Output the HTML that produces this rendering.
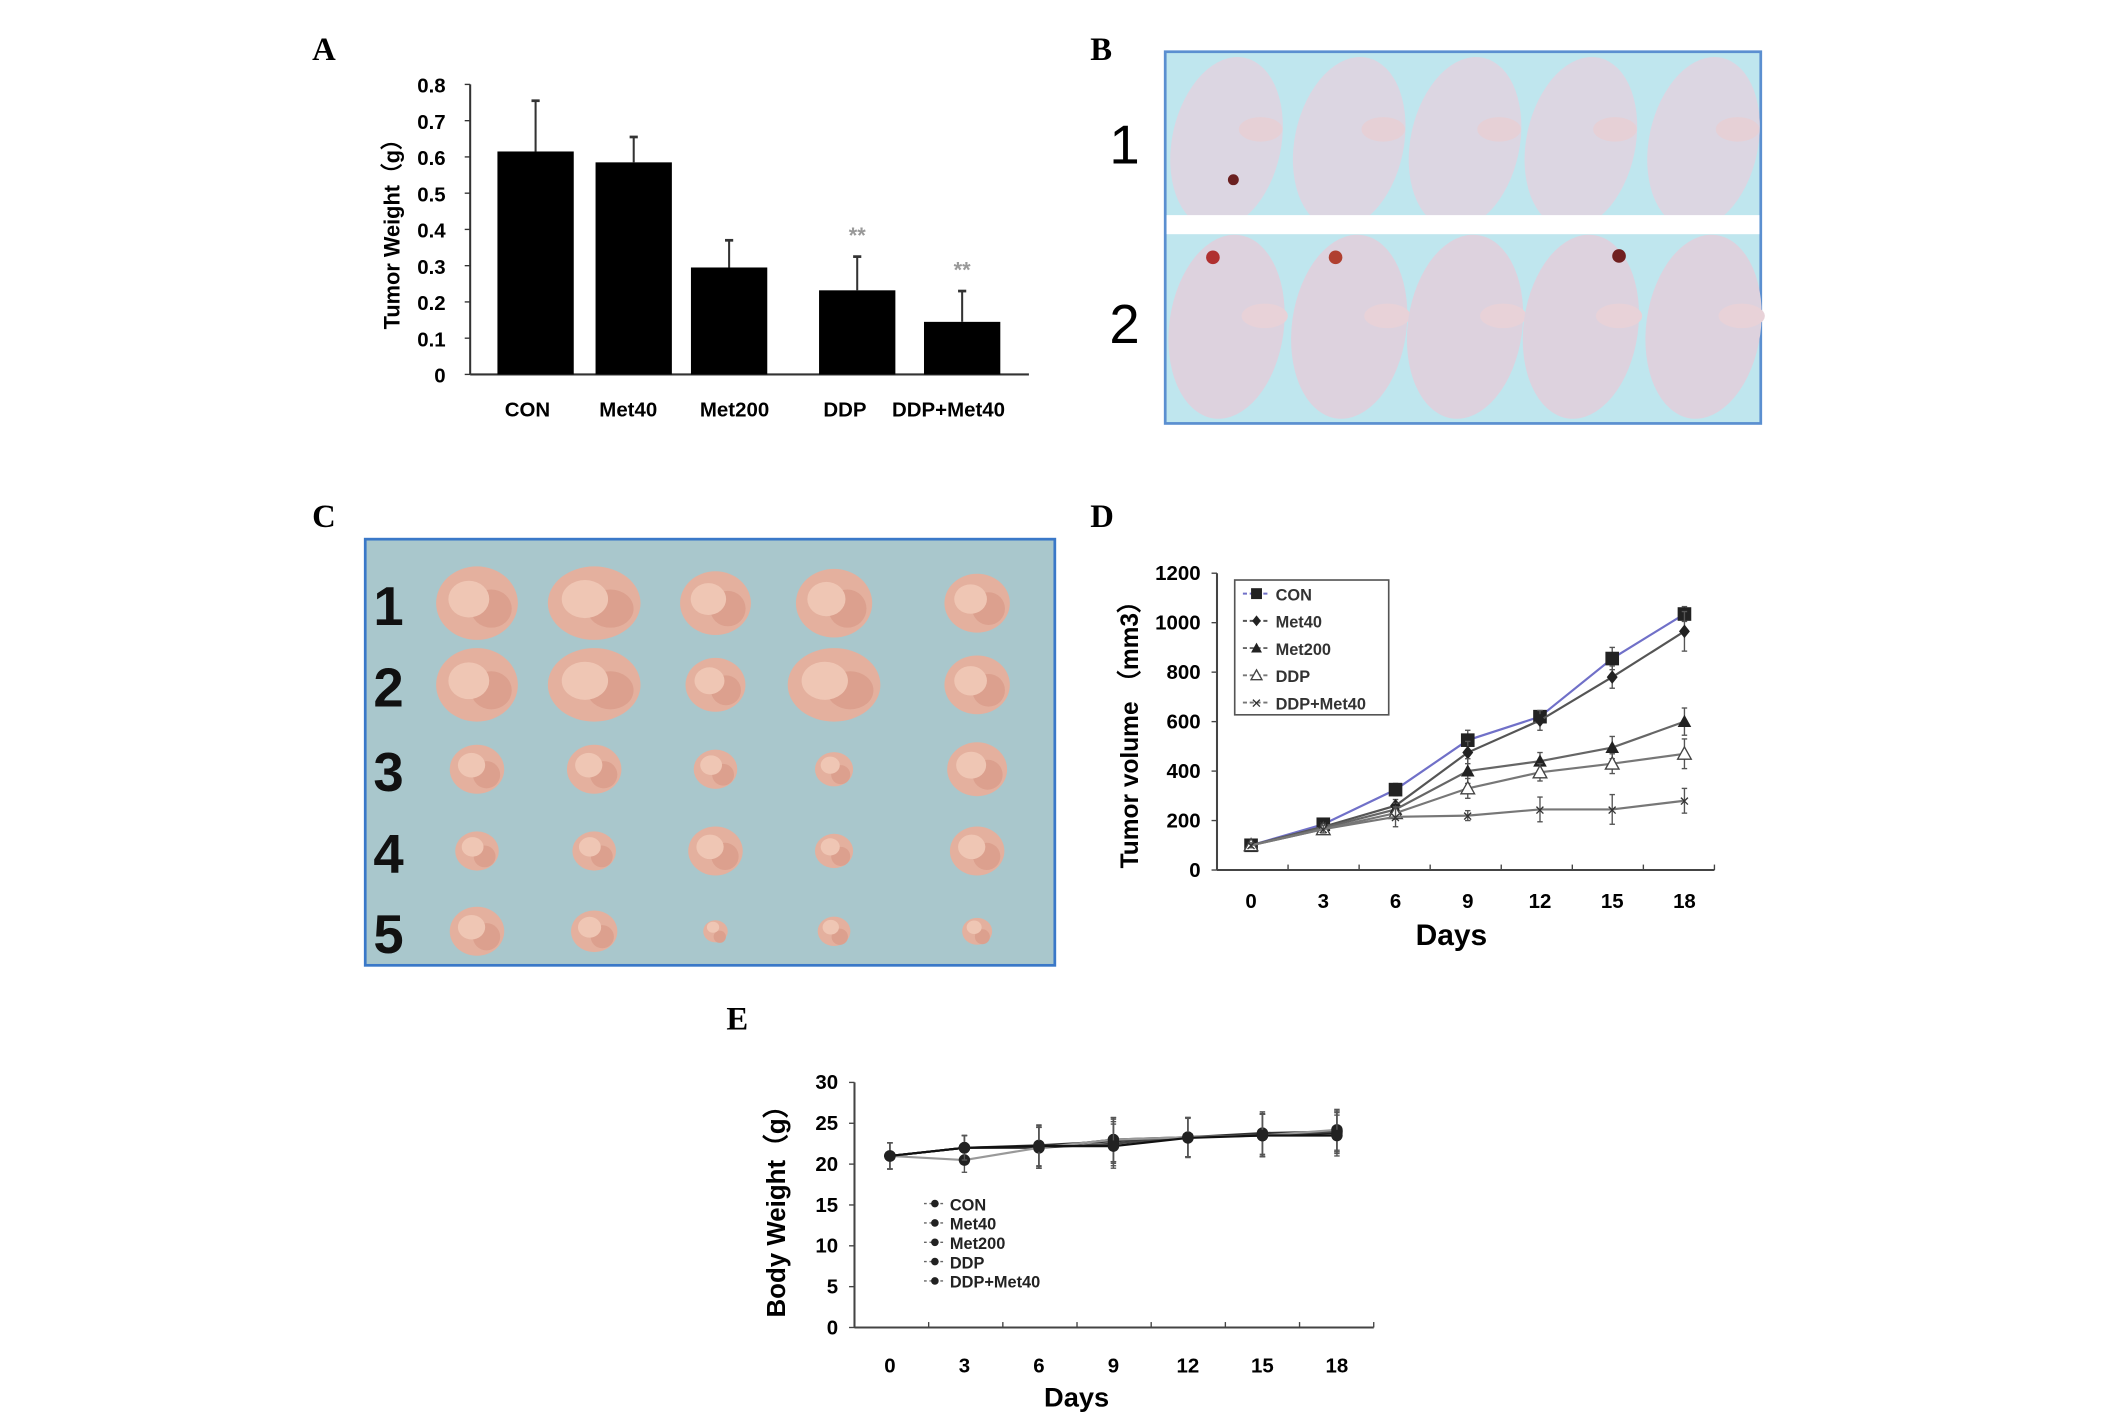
<!DOCTYPE html>
<html><head><meta charset="utf-8"><style>
html,body{margin:0;padding:0;background:#fff;}
svg{display:block;}
text{font-family:"Liberation Sans",sans-serif;}
.lbl{font-family:"Liberation Serif",serif;font-weight:bold;font-size:24px;}
.tk{font-weight:bold;font-size:15px;}
</style></head><body>
<svg id="fig" width="2126" height="1416" viewBox="0 0 1560 1040" preserveAspectRatio="none" xmlns="http://www.w3.org/2000/svg">
<rect width="1560" height="1040" fill="#fff"/>
<text class="lbl" x="229" y="44">A</text>
<text class="lbl" x="800" y="44">B</text>
<text class="lbl" x="229" y="387">C</text>
<text class="lbl" x="800" y="387">D</text>
<text class="lbl" x="533" y="756">E</text>

<g id="panelA"></g>

<g>
 <rect x="855" y="38" width="437" height="273" fill="#bfe6ee" stroke="#5b8fd0" stroke-width="2"/>
 <g id="mice"></g>
 <rect x="856" y="158" width="435" height="14" fill="#fff"/>
 <text x="814" y="120" font-size="40">1</text>
 <text x="814" y="252" font-size="40">2</text>
</g>

<g>
 <rect x="268" y="396" width="506" height="313" fill="#a9c7cc" stroke="#3a78c8" stroke-width="2"/>
 <g id="tumors"></g>
</g>

<g id="panelD"></g>
<g id="panelE"></g>
</svg>
<script>
const NS="http://www.w3.org/2000/svg";
function mk(parent,tag,attrs,txt){const e=document.createElementNS(NS,tag);for(const k in attrs)e.setAttribute(k,attrs[k]);if(txt!==undefined)e.textContent=txt;parent.appendChild(e);return e;}

const aCategories=["CON","Met40","Met200","DDP","DDP+Met40"];
const aValues=[0.615,0.585,0.295,0.232,0.145];
const aErrors=[0.14,0.07,0.075,0.093,0.085];
const aTicks=[0,0.1,0.2,0.3,0.4,0.5,0.6,0.7,0.8];
const aStars=["","","","**","**"];

const dDays=[0,3,6,9,12,15,18];
const dTicksY=[0,200,400,600,800,1000,1200];
const dCON=[100,185,325,525,620,855,1035];
const dMet40=[100,175,260,475,605,780,965];
const dMet200=[100,170,245,400,440,495,600];
const dDDP=[100,165,230,330,395,430,470];
const dDDPMet40=[100,165,215,220,245,245,280];
const dErrCON=[10,15,25,40,20,45,30];
const dErrMet40=[10,15,25,45,40,45,80];
const dErrMet200=[10,15,25,50,35,45,55];
const dErrDDP=[10,15,25,40,35,40,60];
const dErrDDPMet40=[10,15,40,20,50,60,50];

const eTicksY=[0,5,10,15,20,25,30];
const eCON=[21,22,22,23,23.3,23.6,23.8];
const eMet40=[21,22,22.3,22.8,23.3,23.8,24];
const eMet200=[21,22,22,22.5,23.3,23.5,24];
const eDDP=[21,20.5,22,23,23.3,23.5,24.2];
const eDDPMet40=[21,22,22.2,22.2,23.2,23.5,23.5];
const eErr=[1.6,1.5,2.5,2.7,2.4,2.6,2.5];

(function(){
 const g=document.getElementById('panelA');
 const x0=345,x1=755,yb=275,yt=62;
 const y=v=>yb-(v/0.8)*(yb-yt);
 const xc=[393,465,535,629,706];
 mk(g,'line',{x1:x0,y1:yt,x2:x0,y2:yb,stroke:'#333','stroke-width':1.5});
 mk(g,'line',{x1:x0,y1:yb,x2:x1,y2:yb,stroke:'#333','stroke-width':1.5});
 aTicks.forEach(t=>{
  mk(g,'line',{x1:x0-4,y1:y(t),x2:x0,y2:y(t),stroke:'#333'});
  const tx=mk(g,'text',{x:327,y:y(t)+6,'text-anchor':'end',class:'tk'},String(t));
  
  
 });
 const yt2=mk(g,'text',{x:0,y:0,transform:'translate(293,168) rotate(-90)','text-anchor':'middle','font-weight':'bold','font-size':16},'Tumor Weight（g）');
 
 
 aCategories.forEach((c,i)=>{
  const b=mk(g,'rect',{x:xc[i]-28,y:y(aValues[i]),width:56,height:yb-y(aValues[i]),fill:'#000'});
  
  
  const top=y(aValues[i]+aErrors[i]);
  const e=mk(g,'line',{x1:xc[i],y1:y(aValues[i]),x2:xc[i],y2:top,stroke:'#333','stroke-width':1.5});
  
  
  mk(g,'line',{x1:xc[i]-3,y1:top,x2:xc[i]+3,y2:top,stroke:'#333','stroke-width':2});
  if(aStars[i]){const s=mk(g,'text',{x:xc[i],y:top-10,'text-anchor':'middle','font-size':16,fill:'#999','font-weight':'bold'},aStars[i]);
   
   }
 });
 const lx=[387,461,539,620,696];
 aCategories.forEach((c,i)=>{const t=mk(g,'text',{x:lx[i],y:306,'text-anchor':'middle',class:'tk'},c);
  
  });
})();

(function(){
 const m=document.getElementById('mice');
 [900,990,1075,1160,1250].forEach((cx,i)=>{
  mk(m,'ellipse',{cx:cx,cy:105,rx:40,ry:64,fill:'#dcd6e2',transform:`rotate(12 ${cx} 105)`});
  mk(m,'ellipse',{cx:cx+25,cy:95,rx:16,ry:9,fill:'#e6d0d6'});
  mk(m,'ellipse',{cx:cx,cy:240,rx:42,ry:68,fill:'#ddd2de',transform:`rotate(8 ${cx} 240)`});
  mk(m,'ellipse',{cx:cx+28,cy:232,rx:17,ry:9,fill:'#e8d2d8'});
 });
 mk(m,'circle',{cx:905,cy:132,r:4,fill:'#6a2020'});
 mk(m,'circle',{cx:890,cy:189,r:5,fill:'#b03030'});
 mk(m,'circle',{cx:980,cy:189,r:5,fill:'#b04030'});
 mk(m,'circle',{cx:1188,cy:188,r:5,fill:'#702020'});
 const t=document.getElementById('tumors');
 const cols=[350,436,525,612,717];
 const rows=[{y:443,r:[30,34,26,28,24]},{y:503,r:[30,34,22,34,24]},{y:565,r:[20,20,16,14,22]},{y:625,r:[16,16,20,14,20]},{y:684,r:[20,17,9,12,11]}];
 rows.forEach((row,ri)=>{
  cols.forEach((cx,ci)=>{
   const r=row.r[ci];
   mk(t,'ellipse',{cx:cx,cy:row.y,rx:r,ry:Math.min(r*0.9,27),fill:'#e4b09e'});
   mk(t,'ellipse',{cx:cx+r*0.35,cy:row.y+4,rx:r*0.5,ry:Math.min(r*0.5,14),fill:'#dca08e'});
   mk(t,'ellipse',{cx:cx-r*0.2,cy:row.y-3,rx:r*0.5,ry:Math.min(r*0.45,14),fill:'#efc6b4'});
  });
  const n=mk(t,'text',{x:274,y:row.y+16,'font-size':40,'font-weight':'bold',fill:'#111'},String(ri+1));
  
  
 });
})();

function lineChart(g,o){
 const X=d=>o.x0d+(d/18)*(o.x18-o.x0d);
 const Y=v=>o.yb-(v/o.ymax)*(o.yb-o.yt);
 mk(g,'line',{x1:o.ax,y1:o.yt,x2:o.ax,y2:o.yb,stroke:'#444','stroke-width':1.5});
 mk(g,'line',{x1:o.ax,y1:o.yb,x2:o.axEnd,y2:o.yb,stroke:'#444','stroke-width':1.5});
 o.ticksY.forEach(t=>{
  mk(g,'line',{x1:o.ax-4,y1:Y(t),x2:o.ax,y2:Y(t),stroke:'#444'});
  const tx=mk(g,'text',{x:o.ax-12,y:Y(t)+5,'text-anchor':'end',class:'tk','font-size':o.fsY},String(t));
  
  
 });
 for(let i=0;i<=7;i++){const xx=o.ax+i*(o.axEnd-o.ax)/7;mk(g,'line',{x1:xx,y1:o.yb,x2:xx,y2:o.yb-4,stroke:'#444'});}
 dDays.forEach(d=>{const tx=mk(g,'text',{x:X(d),y:o.yb+o.dxl,'text-anchor':'middle',class:'tk','font-size':o.fsX},String(d));
  
  });
 o.series.forEach((s,si)=>{
  const pts=s.v.map((v,i)=>X(dDays[i])+','+Y(v)).join(' ');
  const p=mk(g,'polyline',{points:pts,fill:'none',stroke:s.c,'stroke-width':1.6});
  
  
  s.v.forEach((v,i)=>{
   const cx=X(dDays[i]),cy=Y(v),e=s.e[i];
   mk(g,'line',{x1:cx,y1:Y(v+e),x2:cx,y2:Y(v-e),stroke:'#555','stroke-width':1});
   mk(g,'line',{x1:cx-2,y1:Y(v+e),x2:cx+2,y2:Y(v+e),stroke:'#555'});
   mk(g,'line',{x1:cx-2,y1:Y(v-e),x2:cx+2,y2:Y(v-e),stroke:'#555'});
   const mkr=o.marker(g,s.m,cx,cy);
   
   
  });
 });
 return {X,Y};
}
function marker(g,m,x,y,sz){
 sz=sz||1;
 if(m==='sq')return mk(g,'rect',{x:x-5*sz,y:y-5*sz,width:10*sz,height:10*sz,fill:'#222'});
 if(m==='di')return mk(g,'polygon',{points:`${x},${y-5*sz} ${x+4*sz},${y} ${x},${y+5*sz} ${x-4*sz},${y}`,fill:'#222'});
 if(m==='tr')return mk(g,'polygon',{points:`${x},${y-5*sz} ${x+5*sz},${y+4*sz} ${x-5*sz},${y+4*sz}`,fill:'#222'});
 if(m==='ot')return mk(g,'polygon',{points:`${x},${y-5*sz} ${x+5*sz},${y+4*sz} ${x-5*sz},${y+4*sz}`,fill:'#fff',stroke:'#444'});
 if(m==='x')return mk(g,'text',{x:x,y:y+4,'text-anchor':'middle','font-size':10,fill:'#333'},'✕');
 return mk(g,'circle',{cx:x,cy:y,r:3.5*sz,fill:'#222'});
}

(function(){
 const g=document.getElementById('panelD');
 const series=[
  {n:'CON',v:dCON,e:dErrCON,c:'#7070c8',m:'sq'},
  {n:'Met40',v:dMet40,e:dErrMet40,c:'#555',m:'di'},
  {n:'Met200',v:dMet200,e:dErrMet200,c:'#666',m:'tr'},
  {n:'DDP',v:dDDP,e:dErrDDP,c:'#777',m:'ot'},
  {n:'DDP+Met40',v:dDDPMet40,e:dErrDDPMet40,c:'#777',m:'x'}];
 lineChart(g,{ax:893,axEnd:1258,yt:421,yb:639,ymax:1200,x0d:918,x18:1236,ticksY:dTicksY,series:series,marker:(gg,m,x,y)=>marker(gg,m,x,y),fsY:14,fsX:15,dxl:28});
 const t1=mk(g,'text',{x:0,y:0,transform:'translate(835,535) rotate(-90)','text-anchor':'middle','font-weight':'bold','font-size':18},'Tumor volume （mm3）');
 
 
 const t2=mk(g,'text',{x:1065,y:694,'text-anchor':'middle','font-weight':'bold','font-size':22},'Days');
 
 
 const lg=mk(g,'g',{});
 
 
 mk(lg,'rect',{x:906,y:426,width:113,height:99,fill:'#fff',stroke:'#555','stroke-width':1.2});
 series.forEach((s,i)=>{
  const yy=436+i*20;
  mk(lg,'line',{x1:912,y1:yy,x2:932,y2:yy,stroke:s.c,'stroke-width':1.4,'stroke-dasharray':'3,2'});
  marker(lg,s.m,922,yy,0.8);
  const tx=mk(lg,'text',{x:936,y:yy+5,'font-size':12,'font-weight':'bold',fill:'#333'},s.n);
  
  
 });
})();

(function(){
 const g=document.getElementById('panelE');
 const series=[
  {n:'CON',v:eCON,e:eErr,c:'#222',m:'ci'},
  {n:'Met40',v:eMet40,e:eErr,c:'#333',m:'ci'},
  {n:'Met200',v:eMet200,e:eErr,c:'#444',m:'ci'},
  {n:'DDP',v:eDDP,e:eErr,c:'#999',m:'ci'},
  {n:'DDP+Met40',v:eDDPMet40,e:eErr,c:'#111',m:'ci'}];
 lineChart(g,{ax:627,axEnd:1008,yt:795,yb:975,ymax:30,x0d:653,x18:981,ticksY:eTicksY,series:series,marker:(gg,m,x,y)=>marker(gg,m,x,y,1.2),fsY:15,fsX:18,dxl:33});
 const t1=mk(g,'text',{x:0,y:0,transform:'translate(576,885) rotate(-90)','text-anchor':'middle','font-weight':'bold','font-size':19},'Body Weight（g）');
 
 
 const t2=mk(g,'text',{x:790,y:1033,'text-anchor':'middle','font-weight':'bold','font-size':20},'Days');
 
 
 series.forEach((s,i)=>{
  const yy=884+i*14.2;
  mk(g,'line',{x1:678,y1:yy,x2:694,y2:yy,stroke:'#666','stroke-dasharray':'2,2'});
  marker(g,'ci',686,yy,0.8);
  const tx=mk(g,'text',{x:697,y:yy+5,'font-size':12,'font-weight':'bold',fill:'#222'},s.n);
  
  
 });
})();
</script>
</body></html>
